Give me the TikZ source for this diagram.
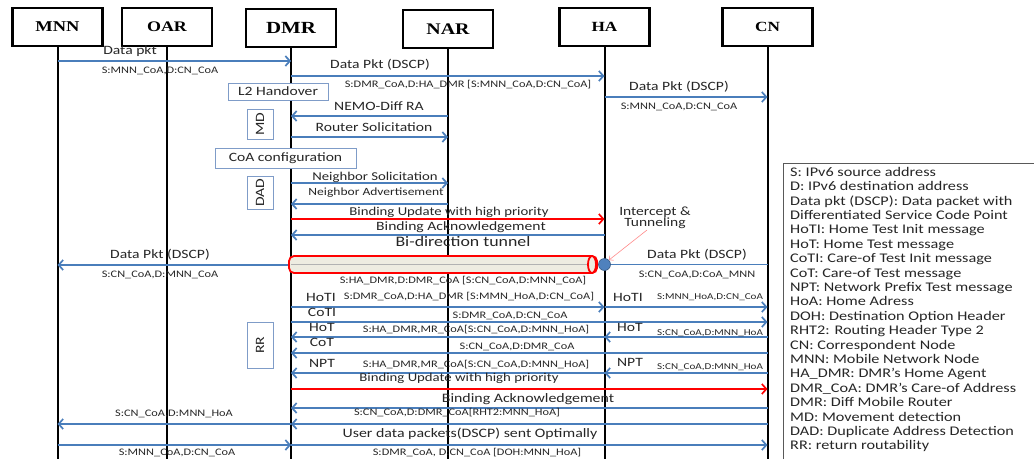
\documentclass[tikz,border=0pt]{standalone}
\usepackage{fontspec}
\setmainfont{Carlito}[FakeStretch=1.23]
\newfontfamily\headfont{Liberation Serif}[FakeStretch=1.23]
\usetikzlibrary{arrows.meta}
\definecolor{msgblue}{HTML}{4A7EBB}
\definecolor{boxblue}{HTML}{7F9CC8}
\definecolor{tunnelfill}{HTML}{EEECE1}
\definecolor{dotblue}{HTML}{4F81BD}
\definecolor{pinkline}{HTML}{FF8A8A}
\def\msg#1#2#3#4{\draw[#1] (#2 |- 0,#4) -- (#3 |- 0,#4);}

\begin{document}
\begin{tikzpicture}[x=1pt, y=-1pt,
    head/.style={draw, line width=2.2pt, minimum width=90pt, minimum height=38pt, inner sep=0pt},
    life/.style={line width=2pt},
    arr/.style={msgblue, line width=1.7pt, -{Straight Barb[length=4.5pt,width=10pt]}},
    plain/.style={msgblue, line width=1.7pt},
    redarr/.style={red, line width=1.7pt, -{Straight Barb[length=4.5pt,width=10pt]}},
    lbl/.style={inner sep=0pt, text=black!85, font=\fontsize{12.7}{14}\selectfont},
    addr/.style={inner sep=0pt, text=black!85, font=\fontsize{10}{12}\selectfont},
    saddr/.style={inner sep=0pt, text=black!85, font=\fontsize{9}{11}\selectfont},
    phase/.style={draw=boxblue, line width=0.7pt, inner sep=0pt, text=black!85, font=\fontsize{12.7}{14}\selectfont}]
  \useasboundingbox (0,0) rectangle (1034,459);

  % Entities
  \node[head, font=\headfont\bfseries\fontsize{15}{17}\selectfont] (mnn) at (57.5,27) {MNN};
  \node[head, font=\headfont\bfseries\fontsize{14.6}{17}\selectfont] (oar) at (167,27) {OAR};
  \node[head, font=\headfont\bfseries\fontsize{17}{19}\selectfont] (dmr) at (291,28) {DMR};
  \node[head, font=\headfont\bfseries\fontsize{16.2}{18}\selectfont] (nar) at (448,29) {NAR};
  \node[head, font=\headfont\bfseries\fontsize{14}{16}\selectfont] (ha) at (604.5,27) {HA};
  \node[head, font=\headfont\bfseries\fontsize{14}{16}\selectfont] (cn) at (767.5,27) {CN};
  \foreach \n in {mnn,oar,dmr,nar,ha,cn}
    \draw[life] (\n.south) -- (\n |- 0,459);

  % Handover, movement detection, CoA, DAD
  \node[phase, fill=white, minimum width=100pt, minimum height=17pt] (l2) at (278,91.5) {L2 Handover};
  \node[phase, fill=white, rotate=90, minimum width=30pt, minimum height=26pt] (md) at (260,124) {MD};
  \node[phase, fill=white, minimum width=141pt, minimum height=20pt] (coa) at (285.5,158) {CoA configuration};
  \node[phase, fill=white, rotate=90, minimum width=33pt, minimum height=26pt] (dad) at (260,192.5) {DAD};
  \node[phase, fill=white, rotate=90, minimum width=46pt, minimum height=26pt] (rr) at (260,345) {RR};

  % Data before handover
  \msg{arr}{mnn}{dmr}{61}
  \node[lbl] (datapkt) at (130,51) {Data pkt};
  \node[addr] (datapktaddr) at (160,71) {S:MNN\_CoA,D:CN\_CoA};
  \msg{arr}{dmr}{ha}{76}
  \node[lbl] (dscpa) at (380,65) {Data Pkt (DSCP)};
  \node[addr] (dscpaaddr) at (468,85) {S:DMR\_CoA,D:HA\_DMR [S:MNN\_CoA,D:CN\_CoA]};
  \msg{arr}{ha}{cn}{97}
  \node[lbl] (dscpb) at (679,87) {Data Pkt (DSCP)};
  \node[addr] (dscpbaddr) at (679,107) {S:MNN\_CoA,D:CN\_CoA};

  % Router discovery
  \msg{arr}{nar}{dmr}{116}
  \node[lbl] (nemo) at (379,106) {NEMO-Diff RA};
  \msg{arr}{dmr}{nar}{137}
  \node[lbl] (rs) at (374,127) {Router Solicitation};
  \msg{arr}{dmr}{nar}{183}
  \node[lbl, font=\fontsize{12}{14}\selectfont] (ns) at (375,177) {Neighbor Solicitation};
  \msg{arr}{nar}{dmr}{204}
  \node[lbl, font=\fontsize{11}{13}\selectfont] (na) at (376,193) {Neighbor Advertisement};

  % Binding
  \msg{redarr}{dmr}{ha}{219}
  \node[lbl, font=\fontsize{12}{14}\selectfont] (bu) at (449,212) {Binding Update with high priority};
  \msg{arr}{ha}{dmr}{235}
  \node[lbl] (ba) at (461,227) {Binding Acknowledgement};
  \node[lbl, font=\fontsize{14.5}{16}\selectfont] (bidir) at (463,242) {Bi-direction tunnel};

  % Tunnel
  \msg{arr}{dmr}{mnn}{265}
  \node[lbl] (dscpc) at (160,255) {Data Pkt (DSCP)};
  \node[addr] (dscpcaddr) at (160,275) {S:CN\_CoA,D:MNN\_CoA};
  \draw[red, line width=1.8pt, fill=tunnelfill, rounded corners=5pt] (289,256) rectangle (597,273);
  \draw[gray!60, line width=0.5pt] (291,264.5) -- (588,264.5);
  \draw[red, line width=1.8pt, fill=tunnelfill] (592,264.5) ellipse (4 and 8.5);
  \node[circle, fill=dotblue, draw=dotblue!70!black, line width=0.6pt, minimum size=12pt, inner sep=0pt] (dot) at (ha |- 0,264.5) {};
  \draw[plain] (cn |- dot) -- (dot.east);
  \node[lbl] (dscpd) at (697,255) {Data Pkt (DSCP)};
  \node[addr] (dscpdaddr) at (697,275) {S:CN\_CoA,D:CoA\_MNN};
  \node[addr] (tunaddr) at (463,281) {S:HA\_DMR,D:DMR\_CoA [S:CN\_CoA,D:MNN\_CoA]};
  \node[lbl, align=center, font=\fontsize{12.6}{11.5}\selectfont] (icpt) at (655,218) {Intercept \&\\Tunneling};
  \coordinate (icptfoot) at (647,230);
  \draw[pinkline, line width=0.6pt, -{Straight Barb[length=3pt,width=6pt]}] (icptfoot) -- (dot.north east);

  % Return routability
  \msg{arr}{dmr}{ha}{307}
  \msg{arr}{ha}{cn}{307}
  \node[lbl] (hoti) at (321,297) {HoTI};
  \node[addr] (hotiaddr) at (469,297) {S:DMR\_CoA,D:HA\_DMR [S:MMN\_HoA,D:CN\_CoA]};
  \node[lbl] (hotib) at (628,297) {HoTI};
  \node[saddr] (hotibaddr) at (710,297) {S:MNN\_HoA,D:CN\_CoA};
  \msg{arr}{dmr}{cn}{322}
  \node[lbl] (coti) at (322,312) {CoTI};
  \node[addr] (cotiaddr) at (510,316) {S:DMR\_CoA,D:CN\_CoA};
  \msg{arr}{cn}{ha}{337}
  \msg{arr}{ha}{dmr}{337}
  \node[lbl] (hot) at (322,327) {HoT};
  \node[addr] (hotaddr) at (476,330) {S:HA\_DMR,MR\_CoA[S:CN\_CoA,D:MNN\_HoA]};
  \node[lbl] (hotb) at (630,327) {HoT};
  \node[saddr] (hotbaddr) at (710,333) {S:CN\_CoA,D:MNN\_HoA};
  \msg{arr}{cn}{dmr}{353}
  \node[lbl] (cot) at (322,342) {CoT};
  \node[addr] (cotaddr) at (517,347) {S:CN\_CoA,D:DMR\_CoA};
  \msg{arr}{cn}{ha}{373}
  \msg{arr}{ha}{dmr}{373}
  \node[lbl] (npt) at (322,363) {NPT};
  \node[addr] (nptaddr) at (476,365) {S:HA\_DMR,MR\_CoA[S:CN\_CoA,D:MNN\_HoA]};
  \node[lbl] (nptb) at (630,362) {NPT};
  \node[saddr] (nptbaddr) at (710,367) {S:CN\_CoA,D:MNN\_HoA};

  % Binding with CN
  \msg{redarr}{dmr}{cn}{389}
  \node[lbl, font=\fontsize{12}{14}\selectfont] (bucn) at (459,378) {Binding Update with high priority};
  \msg{arr}{cn}{dmr}{408}
  \node[lbl, font=\fontsize{12.9}{14}\selectfont] (bacn) at (528,399) {Binding Acknowledgement};
  \node[addr] (bacnaddr) at (457,413) {S:CN\_CoA,D:DMR\_CoA[RHT2:MNN\_HoA]};

  % Optimal route
  \msg{arr}{cn}{dmr}{424}
  \msg{arr}{dmr}{mnn}{424}
  \node[addr] (optaaddr) at (174,414) {S:CN\_CoA,D:MNN\_HoA};
  \node[lbl, font=\fontsize{12.9}{14}\selectfont] (opt) at (470,434) {User data packets(DSCP) sent Optimally};
  \msg{arr}{mnn}{dmr}{445}
  \msg{arr}{dmr}{cn}{445}
  \node[addr] (optbaddr) at (177,453) {S:MNN\_CoA,D:CN\_CoA};
  \node[addr] (optcaddr) at (477,453) {S:DMR\_CoA, D:CN\_CoA [DOH:MNN\_HoA]};

  % Legend
  \draw[gray!70!black, line width=0.8pt] (783,459) -- (783,163) -- (1034,163);
  \node[anchor=north west, inner sep=0pt, align=left, text=black!85, font=\fontsize{13.2}{14.4}\selectfont] (legend) at (790,167) {S: IPv6 source address\\
    D: IPv6 destination address\\
    Data pkt (DSCP): Data packet with\\
    Differentiated Service Code Point\\
    HoTI: Home Test Init message\\
    HoT: Home Test message\\
    CoTI: Care-of Test Init message\\
    CoT: Care-of Test message\\
    NPT: Network Prefix Test message\\
    HoA: Home Adress\\
    DOH: Destination Option Header\\
    RHT2: Routing Header Type 2\\
    CN: Correspondent Node\\
    MNN: Mobile Network Node\\
    HA\_DMR: DMR’s Home Agent\\
    DMR\_CoA: DMR’s Care-of Address\\
    DMR: Diff Mobile Router\\
    MD: Movement detection\\
    DAD: Duplicate Address Detection\\
    RR: return routability};
\end{tikzpicture}
\end{document}
